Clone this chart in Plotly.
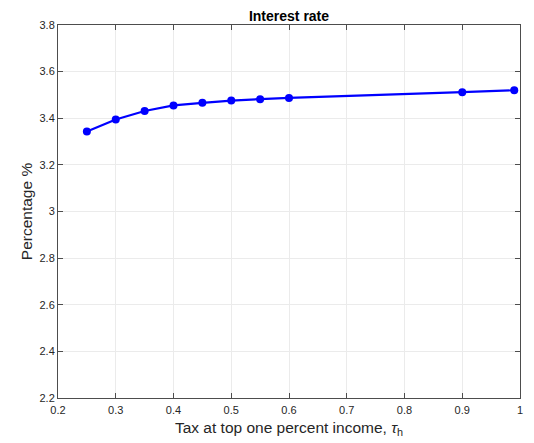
import plotly.graph_objects as go

tax = [0.25, 0.30, 0.35, 0.40, 0.45, 0.50, 0.55, 0.60, 0.90, 0.99]
rate = [3.343, 3.395, 3.431, 3.455, 3.466, 3.476, 3.482, 3.487, 3.512, 3.520]
x_ticks = [0.2, 0.3, 0.4, 0.5, 0.6, 0.7, 0.8, 0.9, 1.0]
x_labels = ["0.2", "0.3", "0.4", "0.5", "0.6", "0.7", "0.8", "0.9", "1"]
y_ticks = [2.2, 2.4, 2.6, 2.8, 3.0, 3.2, 3.4, 3.6, 3.8]
y_labels = ["2.2", "2.4", "2.6", "2.8", "3", "3.2", "3.4", "3.6", "3.8"]

fig = go.Figure(go.Scatter(
    x=tax, y=rate, mode="lines+markers",
    line=dict(color="#0000ff", width=2.2),
    marker=dict(color="#0000ff", size=8, symbol="circle"),
))

axis_common = dict(
    showline=True, linecolor="#4d4d4d", linewidth=1, mirror="ticks",
    ticks="inside", ticklen=5, tickcolor="#4d4d4d",
    showgrid=True, gridcolor="#ebebeb", gridwidth=1, zeroline=False,
    automargin=False,
    tickfont=dict(family="Liberation Sans, Arial", size=11, color="#262626"),
)

# page body has an 8px margin, so the figure is sized to fit the 534x443 window
fig.update_layout(
    width=526, height=435,
    margin=dict(l=50, r=14, t=17, b=45),
    paper_bgcolor="white", plot_bgcolor="white",
    showlegend=False,
    title=dict(text="<b>Interest rate</b>", x=0.5, xref="paper", xanchor="center",
               y=1, yref="paper", yanchor="bottom", pad=dict(b=4), automargin=False,
               font=dict(family="Liberation Sans, Arial", size=14, color="black")),
    xaxis=dict(axis_common, range=[0.2, 1.0], tickvals=x_ticks, ticktext=x_labels,
               ticklabelstandoff=2,
               title=dict(text="Tax at top one percent income, <i>τ</i><sub>h</sub>", standoff=6,
                          font=dict(family="Liberation Sans, Arial", size=15.5, color="#262626"))),
    yaxis=dict(axis_common, range=[2.2, 3.8], tickvals=y_ticks, ticktext=y_labels,
               title=dict(text="Percentage %", standoff=3,
                          font=dict(family="Liberation Sans, Arial", size=15.5, color="#262626"))),
)

fig.write_html("out.html")
